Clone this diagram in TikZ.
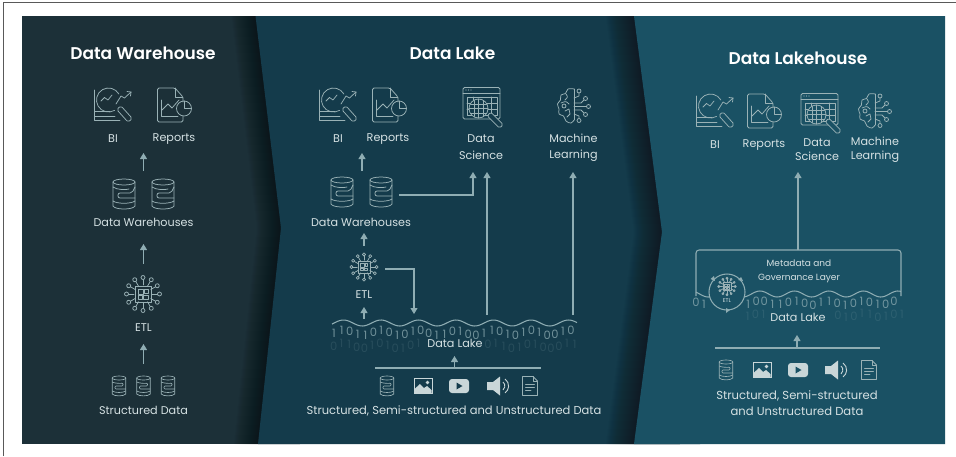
\documentclass[tikz,border=0pt]{standalone}
\usepackage{fontspec}
\setmainfont{Poppins}
\newfontfamily\ttlfont{Poppins SemiBold}
\usetikzlibrary{arrows.meta}
\definecolor{leftcol}{HTML}{1C3038}
\definecolor{midcol}{HTML}{143B4B}
\definecolor{rightcol}{HTML}{1A5164}
\definecolor{linecol}{HTML}{8FADB3}
\definecolor{iconcol}{HTML}{9AB2B6}
\definecolor{labcol}{HTML}{D5E1E3}
\definecolor{solidcol}{HTML}{C9D6D8}
\tikzset{
  ico/.style={draw=iconcol,line width=0.75pt,line cap=round,line join=round},
  conn/.style={draw=linecol,line width=1.05pt},
  tip/.style={conn,-{Triangle[width=7pt,length=6pt]}},
  lab/.style={text=labcol,font=\fontsize{11.2}{16.5}\selectfont,align=center,inner sep=0pt},
  labsrc/.style={lab,font=\fontsize{11.5}{16}\selectfont},
  labtight/.style={lab,font=\fontsize{11.2}{14.5}\selectfont},
  ttl/.style={text=white,font=\fontsize{17}{20}\ttlfont,inner sep=0pt},
  dig/.style={text=linecol,opacity=.75,font=\fontsize{11.5}{12}\selectfont,inner sep=0pt},
  digf/.style={text=linecol,opacity=.16,font=\fontsize{11.5}{12}\selectfont,inner sep=0pt},
  pics/bi/.style={code={
    \draw[ico] (-18.5,-15) -- (-18.5,15.7) -- (7,15.7);
    \draw[ico] (-18.5,11) -- (2,11);
    \draw[ico] (-18.5,6.5) -- (-3,6.5);
    \draw[ico] (1.5,5.4) arc (60:330:12);
    \draw[ico] (-12,-4) -- (-8.5,-7.5) -- (-5,-5) -- (-1,-10);
    \draw[ico] (3,-1) -- (8,-9) -- (11.5,-7) -- (18,-13);
    \draw[ico] (14,-13.5) -- (18,-13) -- (17.5,-9);
    \draw[ico,shift={(11.5,9)},rotate=-48,rounded corners=1.8] (-8.5,-2.8) rectangle (8.5,2.8);
  }},
  pics/reportdoc/.style={code={
    \draw[ico,rounded corners=1.5] (9,-3) -- (9,-8) -- (1,-17) -- (-16.5,-17) -- (-16.5,17) -- (9,17) -- (9,11);
    \draw[ico] (1,-17) -- (1,-8) -- (9,-8);
    \draw[ico] (-13,-5) -- (-13,11) -- (4,11);
    \draw[ico] (-12,5) -- (-6,-1) -- (-2,3) -- (5,-5);
    \draw[ico] (10,3.5) circle (7.5);
    \draw[ico] (10,-4) -- (10,3.5) -- (17.5,3.5);
  }},
  pics/dbicon/.style={code={
    \draw[ico] (0,-12) ellipse (11 and 3);
    \draw[ico] (-11,-12) -- (-11,12) .. controls (-9,16) and (9,16) .. (11,12) -- (11,-12);
    \draw[ico] (-11,-7) .. controls (-7,-4) and (2,-4) .. (5,-5);
    \draw[ico,rounded corners=2] (11,-7) -- (8,-1) -- (-6,-1) -- (-6,4) -- (11,4);
    \draw[ico] (-11,7) .. controls (-7,10) and (7,10) .. (11,7);
  }},
  pics/chip/.style={code={
    \foreach \a in {0,30,...,330}{
      \draw[ico] (\a:9) -- (\a:14.5);
      \draw[ico] (\a:16.5) circle (2);
    }
    \draw[ico] (-8,-8) rectangle (8,8);
    \draw[ico] (-5,-5) rectangle (0,0);
    \draw[ico] (1.5,-5) rectangle (5,-1);
    \draw[ico] (-5,1.5) rectangle (-1,5);
    \draw[ico] (0.5,1.5) rectangle (5,5);
  }},
  pics/dsicon/.style={code={
    \draw[ico,rounded corners=1.5] (-19,-19.5) rectangle (18,12);
    \draw[ico] (-19,-14) -- (18,-14);
    \foreach \x in {-16,-13.5,-11} \fill[iconcol] (\x,-17) circle (.7);
    \draw[ico] (-15,-10) rectangle (15,8);
    \draw[ico] (-15,-4) -- (15,-4) (-15,2) -- (15,2) (-9,-10) -- (-9,8) (9,-10) -- (9,8);
    \draw[ico,fill=#1] (-3.5,1.5) circle (9.5);
    \draw[ico] (-3.5,-8) -- (-3.5,11) (-8,-6.5) -- (-8,9.5) (1,-6.5) -- (1,9.5) (-13,1.5) -- (6,1.5) (-11.5,-3) -- (4.5,-3) (-11.5,6) -- (4.5,6);
    \draw[ico,fill=#1,shift={(13,13)},rotate=-45,rounded corners=1.6] (-8.5,-2.5) rectangle (9,2.5);
  }},
  pics/brain/.style={code={
    \draw[ico] plot[smooth,tension=.7] coordinates {(0,-17) (-6,-17) (-8.5,-12.5) (-13,-11) (-13.5,-6) (-16.5,-2) (-15,3) (-15,8) (-10.5,10) (-8,15) (-3,17) (0,14)};
    \draw[ico] (0,-17) -- (0,14);
    \draw[ico] (-8,-12) .. controls (-6,-9) .. (-9,-6);
    \draw[ico] (-13,-3) .. controls (-8,-5) .. (-5,-2);
    \draw[ico] (-10,0) circle (2);
    \draw[ico] (-9,5) -- (-5,3) -- (-4,8) (-7,11) -- (-4,8);
    \draw[ico] (0,-8) -- (5,-10) -- (5,-13);
    \draw[ico] (5,-15) circle (2);
    \draw[ico] (0,-3) -- (7,-3) -- (10,-6);
    \draw[ico] (11.5,-7.5) circle (2);
    \draw[ico] (0,0.5) -- (12.5,0.5);
    \draw[ico] (14.5,0.5) circle (2);
    \draw[ico] (0,4) -- (7,4) -- (10,7);
    \draw[ico] (11.5,8.5) circle (2);
    \draw[ico] (0,8) -- (5,10) -- (5,12.5);
    \draw[ico] (5,14.5) circle (2);
  }},
  pics/smalldb/.style={code={
    \draw[iconcol,line width=.65pt] (0,-8) ellipse (6.8 and 2);
    \draw[iconcol,line width=.65pt] (-6.8,-8) -- (-6.8,8) .. controls (-5,10.5) and (5,10.5) .. (6.8,8) -- (6.8,-8);
    \draw[iconcol,line width=.65pt,rounded corners=1] (-6.8,-4) .. controls (-4,-2.5) and (2,-2.5) .. (4,-3) -- (4,0) -- (-4,0) -- (-4,3) -- (6.8,3);
    \draw[iconcol,line width=.65pt] (-6.8,5) .. controls (-4,7) and (4,7) .. (6.8,5);
  }},
  pics/imgicon/.style={code={
    \draw[draw=solidcol,line width=1pt] (-9,-7.5) rectangle (9,7.5);
    \fill[solidcol] (-8.5,7) -- (-8.5,3) -- (-3,-2) -- (1,2) -- (4,0) -- (8.5,4) -- (8.5,7) -- cycle;
    \fill[solidcol] (4.5,-3.5) circle (1.8);
  }},
  pics/videoicon/.style={code={
    \fill[solidcol,rounded corners=3] (-10,-7) rectangle (10,7);
    \fill[#1] (-2.5,-3.5) -- (3.5,0) -- (-2.5,3.5) -- cycle;
  }},
  pics/audioicon/.style={code={
    \fill[solidcol] (-10,-4) -- (-4,-4) -- (3,-9.5) -- (3,9.5) -- (-4,4) -- (-10,4) -- cycle;
    \draw[draw=solidcol,line width=.9pt] (6,-4) arc (-50:50:5.2);
    \draw[draw=solidcol,line width=.9pt] (8,-7) arc (-55:55:8.5);
  }},
  pics/docicon/.style={code={
    \draw[ico] (3,-9.5) -- (-7.5,-9.5) -- (-7.5,9.5) -- (7.5,9.5) -- (7.5,-5) -- cycle;
    \draw[ico] (3,-9.5) -- (3,-5) -- (7.5,-5);
    \draw[ico] (-4.5,-2) -- (4.5,-2) (-4.5,1) -- (4.5,1) (-4.5,4) -- (1,4);
  }},
}
\begin{document}
\begin{tikzpicture}[x=1pt,y=-1pt]
\useasboundingbox (0,0) rectangle (956,456);
\fill[white] (0,0) rectangle (956,456);
\draw[draw=black!65,line width=1pt] (3,456) -- (3,2.5) -- (956,2.5);
% panels
\fill[leftcol] (22,16) rectangle (640,444);
\foreach \i in {24,23,...,1}
  \fill[black!60!leftcol,opacity=.04] (255.5-\i,16) -- (281-\i,228) -- (258-\i,444) -- (300,444) -- (300,16) -- cycle;
\fill[midcol] (255.5,16) -- (281,228) -- (258,444) -- (700,444) -- (700,16) -- cycle;
\foreach \i in {28,27,...,1}
  \fill[black!45!leftcol,opacity=.04] (634-\i,16) -- (662-\i,232) -- (634-\i,444) -- (680,444) -- (680,16) -- cycle;
\fill[rightcol] (634,16) -- (662,232) -- (634,444) -- (945,444) -- (945,16) -- cycle;
% titles
\node[ttl] (t1) at (143,53) {Data Warehouse};
\node[ttl] (t2) at (452.5,53) {Data Lake};
\node[ttl] (t3) at (798,58) {Data Lakehouse};
% ---------- left
\pic at (113,105) {bi};
\pic at (174,105) {reportdoc};
\pic at (124,194) {dbicon};
\pic at (163,194) {dbicon};
\pic at (143,294) {chip};
\pic at (119,386) {smalldb};
\pic at (143.5,386) {smalldb};
\pic at (168,386) {smalldb};
\node[lab] (lbi) at (113,139) {BI};
\node[lab] (lrep) at (174,139) {Reports};
\node[lab] (ldw) at (143.5,222.5) {Data Warehouses};
\node[lab] (letl) at (143.5,328) {ETL};
\node[lab] (lsd) at (143.5,410.5) {Structured Data};
\coordinate (a1) at (143.5,171); \coordinate (a2) at (143.5,153);
\coordinate (a3) at (143.5,264); \coordinate (a4) at (143.5,244);
\coordinate (a5) at (143.5,364); \coordinate (a6) at (143.5,344);
\draw[tip] (a1) -- (a2);
\draw[tip] (a3) -- (a4);
\draw[tip] (a5) -- (a6);
% ---------- middle
\pic at (338,105) {bi};
\pic at (389,105) {reportdoc};
\pic at (482,107) {dsicon=midcol};
\pic at (574,106) {brain};
\pic at (342,192) {dbicon};
\pic at (381,192) {dbicon};
\pic[scale=.76] at (364,267) {chip};
\node[lab] (mbi) at (338,139) {BI};
\node[lab] (mrep) at (388,139) {Reports};
\node[lab] (mds) at (481,147) {Data\\Science};
\node[lab] (mml) at (573.5,147.5) {Machine\\Learning};
\node[lab] (mdw) at (361,222.5) {Data Warehouses};
\node[lab] (metl) at (364,295) {ETL};
\foreach \d [count=\i] in {1,1,0,1,1,0,1,0,1,0,1,0,0,1,1,0,1,0,0,1,1,0,1,0,1,0,1,0,0,1,0}
  \node[dig] (md\i) at ({326+7.9*\i},{333-2.5*cos(9.6*(326+7.9*\i-381))}) {\d};
\foreach \d [count=\i] in {0,1,1,0,0,1,0,1,0,1,0,1}
  \node[digf] (mf\i) at ({326+7.7*\i},{346-2.5*cos(9.6*(326+7.7*\i-381))}) {\d};
\foreach \d [count=\i] in {0,1,1,0,1,0,1,0,0,0,1,1}
  \node[digf] (mg\i) at ({480+7.9*\i},{346-2.5*cos(9.6*(480+7.9*\i-381))}) {\d};
\draw[conn] plot[domain=332:577,samples=120] (\x,{323-3*cos(9.6*(\x-381))});
\node[lab] (mdl) at (455,343.5) {Data Lake};
\pic at (387,386) {smalldb};
\pic at (423,386) {imgicon};
\pic at (459,386) {videoicon=midcol};
\pic at (497,386) {audioicon};
\pic at (530,386) {docicon};
\node[labsrc] (msrc) at (454,411) {Structured, Semi-structured and Unstructured Data};
\coordinate (b1) at (362,171); \coordinate (b2) at (362,153);
\coordinate (b3) at (364,246); \coordinate (b4) at (364,233);
\coordinate (b5) at (399,195); \coordinate (b6) at (473,172);
\coordinate (b7) at (487,315); \coordinate (b8) at (487,172);
\coordinate (b9) at (573,315); \coordinate (b10) at (573,172);
\coordinate (b11) at (385,269); \coordinate (b12) at (414,314);
\coordinate (b13) at (364,319); \coordinate (b14) at (364,307);
\coordinate (b15) at (375,368); \coordinate (b16) at (541,368);
\coordinate (b17) at (454.5,368); \coordinate (b18) at (454.5,356);
\draw[tip] (b1) -- (b2);
\draw[tip] (b3) -- (b4);
\draw[tip] (b5) -| (b6);
\draw[tip] (b7) -- (b8);
\draw[tip] (b9) -- (b10);
\draw[tip] (b11) -| (b12);
\draw[tip] (b13) -- (b14);
\draw[conn] (b15) -- (b16);
\draw[tip] (b17) -- (b18);
% ---------- right
\pic at (715,111) {bi};
\pic at (764,111) {reportdoc};
\pic at (820,113) {dsicon=rightcol};
\pic at (875,111) {brain};
\node[lab] (rbi) at (715,145) {BI};
\node[lab] (rrep) at (764,145) {Reports};
\node[labtight] (rds) at (817,149.5) {Data\\Science};
\node[labtight] (rml) at (875,149.5) {Machine\\Learning};
\foreach \d [count=\i] in {0,1}
  \node[dig] (rl\i) at ({688+8*\i},{303-2*cos(10.435*(688+8*\i-760))}) {\d};
\foreach \d [count=\i] in {1,0,0,1,1,0,1,0,0,1,1,0,1,0,1,0,1,0,0}
  \node[dig] (rd\i) at ({740+8.1*\i},{303-2*cos(10.435*(740+8.1*\i-760))}) {\d};
\foreach \d [count=\i] in {1,0,1}
  \node[digf] (rf\i) at ({740+7.8*\i},{315.5-2*cos(10.435*(740+7.8*\i-760))}) {\d};
\foreach \d [count=\i] in {0,1,0,1,1,0,1,0,1}
  \node[digf] (rg\i) at ({830+8*\i},{315.5-2*cos(10.435*(830+8*\i-760))}) {\d};
\draw[conn,rounded corners=3] (696,296) -- (696,250) -- (901,250) -- (901,296);
\draw[conn] plot[domain=696:901,samples=120] (\x,{294-3*cos(10.435*(\x-760))});
\node[circle,draw=linecol,fill=rightcol,line width=1.05pt,minimum size=36pt,inner sep=0pt] (retlc) at (727,292) {};
\pic[scale=.5] at (727,286.5) {chip};
\node[text=labcol,font=\fontsize{5.5}{7}\selectfont,inner sep=0pt] (retl) at (727,300.5) {ETL};
\fill[linecol] (710.5,279) -- (714,276) -- (715,281) -- cycle;
\fill[linecol] (743,281) -- (741,277) -- (738,280) -- cycle;
\fill[linecol] (726,308) -- (730,310) -- (726,313) -- cycle;
\node[lab,font=\fontsize{9}{14.5}\selectfont] (rmeta) at (799,271.5) {Metadata and\\Governance Layer};
\node[lab] (rdl) at (798,317.5) {Data Lake};
\pic at (726,370) {smalldb};
\pic at (762,370) {imgicon};
\pic at (798,370) {videoicon=rightcol};
\pic at (835,370) {audioicon};
\pic at (869,370) {docicon};
\node[labsrc,font=\fontsize{11.6}{16}\selectfont] (rsrc) at (797,403.5) {Structured, Semi-structured\\and Unstructured Data};
\coordinate (c1) at (798,250); \coordinate (c2) at (798,172);
\coordinate (c3) at (715,348); \coordinate (c4) at (880,348);
\coordinate (c5) at (797,348); \coordinate (c6) at (797,335);
\draw[tip] (c1) -- (c2);
\draw[conn] (c3) -- (c4);
\draw[tip] (c5) -- (c6);
\end{tikzpicture}
\end{document}
